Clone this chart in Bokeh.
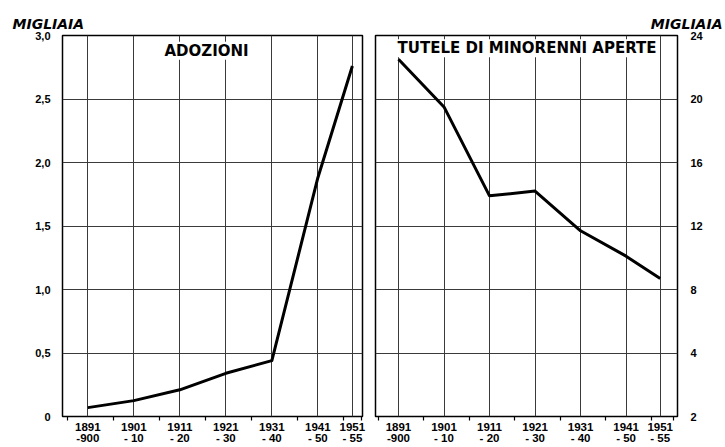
from bokeh.plotting import figure
from bokeh.layouts import row
from bokeh.models import FixedTicker, Label, Range1d, Title
from bokeh.embed import file_html
from bokeh.resources import INLINE

# ---- data ----
period_labels = ["1891\n-900", "1901\n- 10", "1911\n- 20", "1921\n- 30", "1931\n- 40", "1941\n- 50", "1951\n- 55"]
period_mid = [1895.5, 1905.5, 1915.5, 1925.5, 1935.5, 1945.5, 1953.0]
period_bounds = [1891, 1901, 1911, 1921, 1931, 1941, 1951]
adozioni = [0.07, 0.125, 0.21, 0.34, 0.44, 1.88, 2.76]
tutele = [22.5, 19.5, 13.9, 14.2, 11.7, 10.1, 8.7]
left_ticks = [0, 0.5, 1.0, 1.5, 2.0, 2.5, 3.0]
left_tick_labels = ["0", "0,5", "1,0", "1,5", "2,0", "2,5", "3,0"]
right_ticks = [0, 4, 8, 12, 16, 20, 24]
right_tick_labels = ["2", "4", "8", "12", "16", "20", "24"]

FONT = "Liberation Sans"
TFONT = "DejaVu Sans"
H = 446
TOP = 35
BOTTOM = 26


def style(p, minor_bounds):
    p.outline_line_color = "black"
    p.outline_line_width = 1.5
    p.background_fill_color = "white"
    p.border_fill_color = "white"
    p.xaxis.ticker = FixedTicker(ticks=period_mid, minor_ticks=minor_bounds)
    p.xaxis.major_label_overrides = {m: l for m, l in zip(period_mid, period_labels)}
    p.xaxis.major_tick_out = 0
    p.xaxis.major_tick_in = 0
    p.xaxis.minor_tick_out = 4
    p.xaxis.minor_tick_in = 0
    p.xaxis.minor_tick_line_color = "black"
    p.xaxis.minor_tick_line_width = 1.2
    p.xaxis.axis_line_color = None
    p.xaxis.major_label_standoff = 0
    p.xaxis.major_label_text_font = FONT
    p.xaxis.major_label_text_font_style = "bold"
    p.xaxis.major_label_text_font_size = "11.5px"
    p.xaxis.major_label_text_line_height = 0.95
    p.xaxis.major_label_text_color = "black"
    p.yaxis.major_tick_out = 0
    p.yaxis.major_tick_in = 0
    p.yaxis.minor_tick_out = 0
    p.yaxis.minor_tick_in = 0
    p.yaxis.axis_line_color = None
    p.yaxis.major_label_text_font = FONT
    p.yaxis.major_label_text_font_style = "bold"
    p.yaxis.major_label_text_font_size = "11px"
    p.yaxis.major_label_text_color = "black"
    p.xgrid.grid_line_color = "#3a3a3a"
    p.ygrid.grid_line_color = "#3a3a3a"
    p.xgrid.grid_line_width = 1
    p.ygrid.grid_line_width = 1


def unit_title(align, offset):
    return Title(text="MIGLIAIA", align=align, offset=offset, vertical_align="bottom",
                 standoff=8, text_font=TFONT, text_font_size="14px",
                 text_font_style="bold italic", text_color="black")


# ---- left panel ----
p1 = figure(width=368, height=H, x_range=Range1d(1890, 1955.2), y_range=Range1d(0, 3.0),
            title=None, output_backend="svg", toolbar_location=None,
            min_border_left=62, min_border_right=6, min_border_top=TOP, min_border_bottom=BOTTOM)
style(p1, period_bounds + [1955])
p1.yaxis.ticker = FixedTicker(ticks=left_ticks)
p1.yaxis.major_label_overrides = {t: l for t, l in zip(left_ticks, left_tick_labels)}
p1.yaxis.major_label_standoff = 12
p1.line(period_mid, adozioni, line_color="black", line_width=3, line_join="round")
p1.add_layout(Label(x=1921.3, y=2.88, text="ADOZIONI", text_align="center", text_baseline="middle",
                    text_font=TFONT, text_font_size="15px", text_font_style="bold",
                    background_fill_color="white", text_color="black"))
p1.add_layout(unit_title("left", -50), "above")

# ---- right panel ----
p2 = figure(width=356, height=H, x_range=Range1d(1890.45, 1956.8), y_range=Range1d(0, 24),
            title=None, y_axis_location="right", output_backend="svg", toolbar_location=None,
            min_border_left=7, min_border_right=47, min_border_top=TOP, min_border_bottom=BOTTOM)
style(p2, period_bounds + [1956])
p2.yaxis.ticker = FixedTicker(ticks=right_ticks)
p2.yaxis.major_label_overrides = {t: l for t, l in zip(right_ticks, right_tick_labels)}
p2.yaxis.major_label_standoff = 13
p2.line(period_mid, tutele, line_color="black", line_width=3, line_join="round")
p2.add_layout(Label(x=1923.75, y=23.2, text="TUTELE DI MINORENNI APERTE", text_align="center",
                    text_baseline="middle", text_font=TFONT, text_font_size="15px",
                    text_font_style="bold", background_fill_color="white", text_color="black"))
p2.add_layout(unit_title("right", -45), "above")

layout = row(p1, p2)
open("out.html", "w").write(file_html(layout, INLINE))
